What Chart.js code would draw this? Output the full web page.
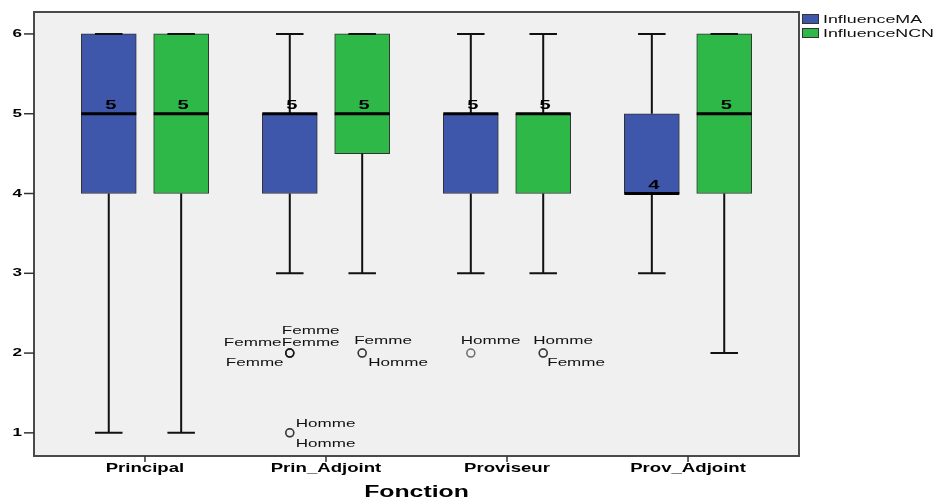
<!DOCTYPE html>
<html>
<head>
<meta charset="utf-8">
<script src="https://cdn.jsdelivr.net/npm/chart.js@4/dist/chart.umd.min.js"></script>
<style>
  body { margin: 0; background: #fff; }
</style>
</head>
<body>
<canvas id="boxChart" width="935" height="501"></canvas>
<script>
// Données
const categories = ['Principal', 'Prin_Adjoint', 'Proviseur', 'Prov_Adjoint'];
const yTicks = [1, 2, 3, 4, 5, 6];

const maMin = [1, 3, 3, 3];
const maQ1 = [4, 4, 4, 4];
const maMed = [5, 5, 5, 4];
const maQ3 = [6, 5, 5, 5];
const maMax = [6, 6, 6, 6];

const ncnMin = [1, 3, 3, 2];
const ncnQ1 = [4, 4.5, 4, 4];
const ncnMed = [5, 5, 5, 5];
const ncnQ3 = [6, 6, 5, 6];
const ncnMax = [6, 6, 6, 6];

// valeurs extrêmes (outliers)
const outCat = [1, 1, 1, 1, 1, 1, 1, 1, 2, 2, 2];
const outSeries = ['MA', 'MA', 'MA', 'MA', 'MA', 'MA', 'NCN', 'NCN', 'MA', 'NCN', 'NCN'];
const outValue = [2, 2, 2, 2, 1, 1, 2, 2, 2, 2, 2];
const outLabel = ['Femme', 'Femme', 'Femme', 'Femme', 'Homme', 'Homme', 'Femme', 'Homme', 'Homme', 'Homme', 'Femme'];

// placement des étiquettes autour du point (px)
const labelDx = [-8, -66, -8, -64, 6, 6, -8, 6, -10, -10, 4];
const labelDy = [-22, -10, -10, 10, -9, 11, -12, 10, -12, -12, 10];

const seriesShift = { MA: -0.2, NCN: 0.2 };
const colorMA = '#3E57AB';
const colorNCN = '#2EB848';
const SX = 1.55; // le texte de la figure est étiré horizontalement

function stretchText(ctx, text, x, y, font, align, baseline) {
    ctx.save();
    ctx.font = font;
    ctx.textAlign = align || 'left';
    ctx.textBaseline = baseline || 'middle';
    ctx.translate(x, y);
    ctx.scale(SX, 1);
    ctx.fillText(text, 0, 0);
    ctx.restore();
}

const boxes = [
    { name: 'InfluenceMA', color: colorMA, shift: seriesShift.MA, min: maMin, q1: maQ1, med: maMed, q3: maQ3, max: maMax },
    { name: 'InfluenceNCN', color: colorNCN, shift: seriesShift.NCN, min: ncnMin, q1: ncnQ1, med: ncnMed, q3: ncnQ3, max: ncnMax }
];

const boxPlugin = {
    id: 'boxParts',
    beforeDraw: function (chart) {
        const a = chart.chartArea, ctx = chart.ctx;
        ctx.save();
        ctx.fillStyle = '#f0f0f0';
        ctx.fillRect(a.left, a.top, a.right - a.left, a.bottom - a.top);
        ctx.restore();
    },
    afterDatasetsDraw: function (chart) {
        const ctx = chart.ctx, y = chart.scales.y;
        ctx.save();
        boxes.forEach(function (b, d) {
            chart.getDatasetMeta(d).data.forEach(function (bar, i) {
                const cx = bar.x, w = bar.width;
                const yMin = y.getPixelForValue(b.min[i]), yMax = y.getPixelForValue(b.max[i]);
                const yQ1 = y.getPixelForValue(b.q1[i]), yQ3 = y.getPixelForValue(b.q3[i]);
                const yMed = y.getPixelForValue(b.med[i]);
                ctx.strokeStyle = '#111';
                ctx.lineWidth = 2;
                ctx.beginPath();
                ctx.moveTo(cx, yQ3); ctx.lineTo(cx, yMax);
                ctx.moveTo(cx, yQ1); ctx.lineTo(cx, yMin);
                ctx.moveTo(cx - w / 4, yMax); ctx.lineTo(cx + w / 4, yMax);
                ctx.moveTo(cx - w / 4, yMin); ctx.lineTo(cx + w / 4, yMin);
                ctx.stroke();
                // médiane
                ctx.lineWidth = 3;
                ctx.strokeStyle = '#000';
                ctx.beginPath();
                ctx.moveTo(cx - w / 2, yMed); ctx.lineTo(cx + w / 2, yMed);
                ctx.stroke();
                ctx.fillStyle = '#000';
                stretchText(ctx, String(b.med[i]), cx + 2, yMed - 5, 'bold 13px "Liberation Sans"', 'center', 'alphabetic');
            });
        });
        // étiquettes des valeurs extrêmes
        const pts = chart.getDatasetMeta(2).data;
        ctx.fillStyle = '#111';
        pts.forEach(function (p, k) {
            stretchText(ctx, outLabel[k], p.x + labelDx[k], p.y + labelDy[k], '11px "Liberation Sans"', 'left', 'middle');
        });
        ctx.restore();
    },
    afterDraw: function (chart) {
        const a = chart.chartArea, ctx = chart.ctx;
        const x = chart.scales.x, y = chart.scales.y;
        ctx.save();
        ctx.strokeStyle = '#4a4a4a';
        ctx.lineWidth = 2;
        ctx.strokeRect(a.left, a.top, a.right - a.left, a.bottom - a.top);
        ctx.strokeStyle = '#333';
        ctx.lineWidth = 1.5;
        ctx.fillStyle = '#000';
        yTicks.forEach(function (v) {
            const py = y.getPixelForValue(v);
            ctx.beginPath();
            ctx.moveTo(a.left - 10, py); ctx.lineTo(a.left, py);
            ctx.stroke();
            stretchText(ctx, String(v), a.left - 12, py, 'bold 11px "Liberation Sans"', 'right', 'middle');
        });
        categories.forEach(function (c, i) {
            const px = x.getPixelForValue(i);
            ctx.beginPath();
            ctx.moveTo(px, a.bottom); ctx.lineTo(px, a.bottom + 6);
            ctx.stroke();
            stretchText(ctx, c, px, a.bottom + 13, 'bold 12px "Liberation Sans"', 'center', 'middle');
        });
        stretchText(ctx, 'Fonction', (a.left + a.right) / 2, 493, 'bold 16px "Liberation Sans"', 'center', 'middle');
        // légende
        boxes.forEach(function (b, d) {
            const ly = 14 + d * 14;
            ctx.fillStyle = b.color;
            ctx.fillRect(a.right + 3, ly, 17, 10);
            ctx.strokeStyle = '#333';
            ctx.lineWidth = 1;
            ctx.strokeRect(a.right + 3.5, ly + 0.5, 16, 9);
            ctx.fillStyle = '#111';
            stretchText(ctx, b.name, a.right + 24, ly + 5.5, '11.5px "Liberation Sans"', 'left', 'middle');
        });
        ctx.restore();
    }
};

document.addEventListener("DOMContentLoaded", function () {
    var ctx = document.getElementById('boxChart').getContext('2d');
    var datasets = boxes.map(function (b) {
        return {
            type: 'bar',
            label: b.name,
            data: categories.map(function (c, i) { return { x: i + b.shift, y: [b.q1[i], b.q3[i]] }; }),
            backgroundColor: b.color,
            borderColor: '#333',
            borderWidth: 1,
            borderSkipped: false,
            barThickness: 55,
            grouped: false
        };
    });
    datasets.push({
        type: 'scatter',
        label: 'outliers',
        data: outValue.map(function (v, k) { return { x: outCat[k] + seriesShift[outSeries[k]], y: v }; }),
        pointStyle: 'circle',
        pointRadius: 4,
        backgroundColor: 'rgba(0,0,0,0)',
        borderColor: 'rgba(20,20,20,0.6)',
        borderWidth: 1.5
    });

    new Chart(ctx, {
        type: 'bar',
        data: { datasets: datasets },
        options: {
            responsive: false,
            animation: false,
            devicePixelRatio: 1,
            layout: { padding: { top: 12, right: 136, left: 0, bottom: 0 } },
            plugins: { legend: { display: false }, tooltip: { enabled: false } },
            scales: {
                x: {
                    type: 'linear',
                    min: -0.613,
                    max: 3.613,
                    offset: false,
                    grid: { display: false, offset: false },
                    border: { display: false },
                    ticks: { display: false },
                    afterBuildTicks: function (s) { s.ticks = categories.map(function (c, i) { return { value: i }; }); },
                    afterFit: function (s) { s.height = 45; }
                },
                y: {
                    min: 0.71,
                    max: 6.275,
                    grid: { display: false },
                    border: { display: false },
                    ticks: { display: false },
                    afterBuildTicks: function (s) { s.ticks = yTicks.map(function (v) { return { value: v }; }); },
                    afterFit: function (s) { s.width = 34; }
                }
            }
        },
        plugins: [boxPlugin]
    });
});
</script>
</body>
</html>
